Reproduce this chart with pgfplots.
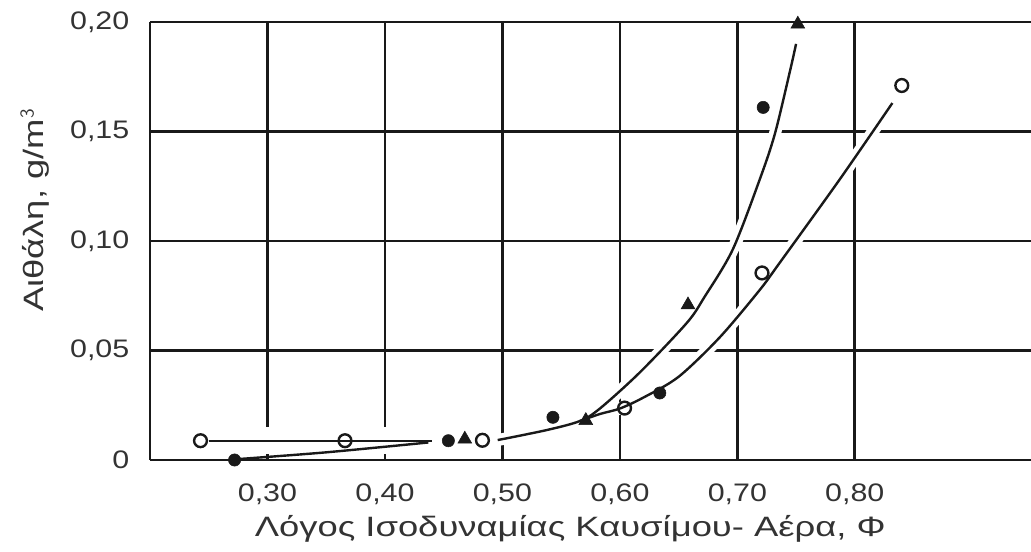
\documentclass[border=0pt]{standalone}
\usepackage{pgfplots}
\usepackage{pgfplotstable}
\pgfplotsset{compat=1.18}
\usepackage{fontspec}
\setmainfont{Liberation Sans}
\newfontfamily\widefont[FakeStretch=1.2]{Liberation Sans}
\newfontfamily\widerfont[FakeStretch=1.3]{Liberation Sans}

\pgfplotstableread{
x y
0.496 0.0091
0.538 0.0137
0.566 0.0178
0.583 0.0235
0.617 0.040
0.657 0.0626
0.672 0.0744
0.696 0.096
0.719 0.128
0.732 0.149
0.745 0.178
0.750 0.190
}\uppercurve
\pgfplotstableread{
x y
0.566 0.0178
0.583 0.0210
0.600 0.0235
0.620 0.0285
0.650 0.038
0.685 0.056
0.719 0.0776
0.736 0.090
0.787 0.128
0.832 0.163
}\lowercurve
\pgfplotstableread{
x y
0.250 0.0088
0.440 0.0088
}\flatline

\begin{document}
\begin{tikzpicture}[x=1pt,y=1pt]
\path[use as bounding box] (-112.5,-69) rectangle (660.75,345);
\begin{axis}[
  at={(0,0)}, anchor=south west,
  scale only axis, width=660.75pt, height=328.5pt,
  xmin=0.2, xmax=0.95, ymin=0, ymax=0.2,
  axis x line*=bottom, axis y line*=left,
  axis line style={black!90, line width=2.2pt, -},
  xtick={0.3,0.4,0.5,0.6,0.7,0.8},
  xticklabels={{0,30},{0,40},{0,50},{0,60},{0,70},{0,80}},
  ytick={0,0.05,0.1,0.15,0.2},
  yticklabels={0,{0,05},{0,10},{0,15},{0,20}},
  major tick length=0pt,
  grid=major,
  major grid style={black!90, line width=2pt},
  tick label style={font=\widefont\fontsize{19}{19}\selectfont, text=black!80},
  xticklabel style={yshift=-14pt},
  yticklabel style={xshift=-12pt},
  xlabel={Λόγος Ισοδυναμίας Καυσίμου- Αέρα, Φ},
  xlabel style={font=\widerfont\fontsize{21}{21}\selectfont, text=black!80, at={(rel axis cs:0.477,0)}, anchor=north, yshift=-38pt},
  ylabel={Αιθάλη, g/m$^{\mathsf{3}}$},
  ylabel style={font=\widerfont\fontsize{21}{21}\selectfont, text=black!80, at={(rel axis cs:-0.1305,0.57)}, anchor=center},
  clip mode=individual,
]
% white halos that break the grid where the curves cross it
\addplot[white, line width=9pt, smooth] table[x=x,y=y] {\uppercurve};
\addplot[white, line width=9pt, smooth] table[x=x,y=y] {\lowercurve};
\addplot[white, line width=20pt] table[x=x,y=y] {\flatline};
% curves
\addplot[black!90, line width=1.8pt] table[x=x,y=y] {\flatline};
\addplot[black!90, line width=1.8pt, smooth] coordinates {
 (0.272,0.0003) (0.35,0.0035) (0.437,0.0080)
};
\addplot[black!90, line width=1.8pt, smooth] table[x=x,y=y] {\uppercurve};
\addplot[black!90, line width=1.8pt, smooth] table[x=x,y=y] {\lowercurve};
% open circles
\addplot[only marks, mark=o, mark size=4.8pt, black!90, line width=1.8pt, mark options={fill=white}] coordinates {
 (0.243,0.0088) (0.366,0.0088) (0.483,0.0090) (0.604,0.0237) (0.721,0.0854) (0.840,0.171)
};
% filled circles
\addplot[only marks, mark=*, mark size=4.6pt, black!90] coordinates {
 (0.272,0.0) (0.454,0.0088) (0.543,0.0195) (0.634,0.0306) (0.722,0.161)
};
% filled triangles
\addplot[only marks, mark=triangle*, mark size=6pt, black!90] coordinates {
 (0.468,0.0095) (0.571,0.0180) (0.658,0.0708) (0.7515,0.199)
};
\end{axis}
\end{tikzpicture}
\end{document}
